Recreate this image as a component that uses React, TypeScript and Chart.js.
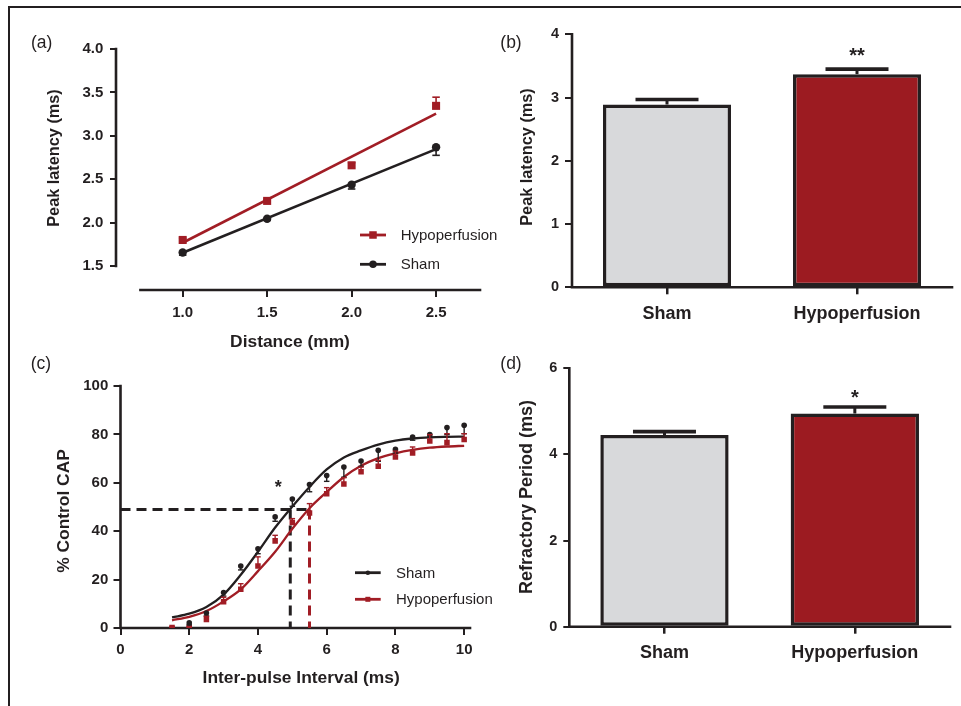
import React, { useEffect, useRef } from 'react';
import { Chart, registerables } from 'chart.js';
Chart.register(...registerables);

const INK = '#231f20';
const RED = '#a11d25';
const BAR_RED = '#9c1b21';
const GRAY = '#d8d9db';
const FONT = "'Liberation Sans', Arial, Helvetica, sans-serif";

// ---------- (a) latency vs distance ----------
const distanceMm = [1.0, 1.5, 2.0, 2.5];
const hypoLatencyA = [1.8, 2.25, 2.66, 3.345];
const hypoLatencyErrA = [0.02, 0.02, 0.03, 0.1];
const shamLatencyA = [1.655, 2.045, 2.437, 2.868];
const shamLatencyErrA = [0.03, 0.02, 0.05, 0.093];
const fitDistance = [1.0, 2.5];
const hypoFitA = [1.768, 3.255];
const shamFitA = [1.653, 2.847];
const yTicksA = [1.5, 2.0, 2.5, 3.0, 3.5, 4.0];
const xTicksA = [1.0, 1.5, 2.0, 2.5];

// ---------- (b) peak latency bars ----------
const groups = ['Sham', 'Hypoperfusion'];
const peakLatencyB = [2.89, 3.37];
const peakLatencyErrB = [0.08, 0.08];
const sigTextB = ['', '**'];
const sigLevelB = [0, 3.727];
const yTicksB = [0, 1, 2, 3, 4];

// ---------- (c) recovery curves ----------
const ipiSham = [2, 2.5, 3, 3.5, 4, 4.5, 5, 5.5, 6, 6.5, 7, 7.5, 8, 8.5, 9, 9.5, 10];
const capSham = [2.1, 6.2, 14.7, 25.6, 32.7, 45.9, 53.3, 59.3, 63.0, 66.5, 69.0, 73.4, 73.8, 78.9, 79.9, 82.8, 83.8];
const capShamErr = [0.8, 1.2, 1.5, 1.6, 2.0, 1.8, 3.0, 3.0, 2.4, 4.2, 2.2, 4.5, 1.5, 1.3, 1.0, 2.9, 3.5];
const ipiHypo = [1.5, 2, 2.5, 3, 3.5, 4, 4.5, 5, 5.5, 6, 6.5, 7, 7.5, 8, 8.5, 9, 9.5, 10];
const capHypo = [0.2, 0.2, 3.5, 10.8, 16.0, 25.6, 36.0, 43.6, 47.5, 55.5, 59.5, 64.6, 66.8, 70.7, 72.3, 77.3, 76.6, 77.9];
const capHypoErr = [0.3, 0.3, 1.3, 1.9, 2.3, 3.8, 2.3, 1.6, 3.9, 2.5, 2.6, 1.9, 2.5, 2.4, 2.5, 2.6, 3.7, 2.4];
const fitIpi = [1.5, 2, 2.5, 3, 3.5, 4, 4.5, 5, 5.5, 6, 6.5, 7, 7.5, 8, 8.5, 9, 9.5, 10];
const shamFitC = [4.4, 5.9, 8.7, 13.8, 22.0, 31.5, 41.5, 50.2, 58.3, 65.5, 70.5, 73.4, 75.8, 77.4, 78.3, 78.8, 79.0, 79.1];
const hypoFitC = [3.2, 4.6, 7.0, 11.0, 16.0, 23.5, 31.5, 41.0, 49.5, 56.2, 62.4, 67.0, 70.2, 72.2, 73.6, 74.5, 75.0, 75.3];
const halfLevel = 49;
const shamHalfIpi = 4.94;
const hypoHalfIpi = 5.5;
const starC = { x: 4.59, y: 59.8 };
const yTicksC = [0, 20, 40, 60, 80, 100];
const xTicksC = [0, 2, 4, 6, 8, 10];

// ---------- (d) refractory period bars ----------
const refractoryD = [4.45, 4.95];
const refractoryErrD = [0.08, 0.15];
const sigTextD = ['', '*'];
const sigLevelD = [0, 5.42];
const yTicksD = [0, 2, 4, 6];

type Pt = { x: number; y: number };
const zip = (xs: number[], ys: number[]): Pt[] => xs.map((x, i) => ({ x, y: ys[i] }));

// ---------- plugins ----------
function axisLines(o: { yFrom: number; yTo: number; xFrom: number | null; width: number }) {
  return {
    id: 'axisLines',
    beforeDatasetsDraw(chart: any) {
      const { ctx, chartArea } = chart;
      const x = chart.scales.x;
      const y = chart.scales.y;
      ctx.save();
      ctx.strokeStyle = INK;
      ctx.lineWidth = o.width;
      ctx.lineCap = 'square';
      ctx.beginPath();
      ctx.moveTo(chartArea.left, y.getPixelForValue(o.yFrom));
      ctx.lineTo(chartArea.left, y.getPixelForValue(o.yTo));
      ctx.moveTo(o.xFrom == null ? chartArea.left : x.getPixelForValue(o.xFrom), chartArea.bottom);
      ctx.lineTo(chartArea.right, chartArea.bottom);
      ctx.stroke();
      ctx.restore();
    },
  };
}

type ErrSet = { ds: number; errors: number[]; dir: number; color: string; lw: number; capW: number; capLw: number };
function errorBars(sets: ErrSet[]) {
  return {
    id: 'errorBars',
    afterDatasetsDraw(chart: any) {
      const { ctx } = chart;
      const y = chart.scales.y;
      sets.forEach((s) => {
        const meta = chart.getDatasetMeta(s.ds);
        const data = chart.data.datasets[s.ds].data;
        ctx.save();
        ctx.strokeStyle = s.color;
        ctx.lineCap = 'butt';
        meta.data.forEach((el: any, i: number) => {
          const d = data[i];
          const v = typeof d === 'number' ? d : d.y;
          const e = s.errors[i];
          if (!e) return;
          const p0 = y.getPixelForValue(v);
          const p1 = y.getPixelForValue(v + s.dir * e);
          ctx.lineWidth = s.lw;
          ctx.beginPath();
          ctx.moveTo(el.x, p0);
          ctx.lineTo(el.x, p1);
          ctx.stroke();
          ctx.lineWidth = s.capLw;
          ctx.beginPath();
          ctx.moveTo(el.x - s.capW / 2, p1);
          ctx.lineTo(el.x + s.capW / 2, p1);
          ctx.stroke();
        });
        ctx.restore();
      });
    },
  };
}

type LegItem = { text: string; color: string; marker: 'rect' | 'circle'; size: number; x0: number; x1: number; y: number; tx: number };
function legendBox(items: LegItem[], lw: number) {
  return {
    id: 'legendBox',
    afterDraw(chart: any) {
      const { ctx } = chart;
      ctx.save();
      items.forEach((it) => {
        ctx.strokeStyle = it.color;
        ctx.fillStyle = it.color;
        ctx.lineWidth = lw;
        ctx.beginPath();
        ctx.moveTo(it.x0, it.y);
        ctx.lineTo(it.x1, it.y);
        ctx.stroke();
        const cx = (it.x0 + it.x1) / 2;
        if (it.marker === 'rect') {
          ctx.fillRect(cx - it.size / 2, it.y - it.size / 2, it.size, it.size);
        } else {
          ctx.beginPath();
          ctx.arc(cx, it.y, it.size / 2, 0, Math.PI * 2);
          ctx.fill();
        }
        ctx.fillStyle = INK;
        ctx.font = `15px ${FONT}`;
        ctx.textAlign = 'left';
        ctx.textBaseline = 'middle';
        ctx.fillText(it.text, it.tx, it.y + 1);
      });
      ctx.restore();
    },
  };
}

function barStars(texts: string[], levels: number[], size: number) {
  return {
    id: 'barStars',
    afterDraw(chart: any) {
      const { ctx } = chart;
      const meta = chart.getDatasetMeta(0);
      ctx.save();
      ctx.fillStyle = INK;
      ctx.font = `bold ${size}px ${FONT}`;
      ctx.textAlign = 'center';
      ctx.textBaseline = 'alphabetic';
      texts.forEach((t, i) => {
        if (!t) return;
        ctx.fillText(t, meta.data[i].x, chart.scales.y.getPixelForValue(levels[i]) + 0.52 * size);
      });
      ctx.restore();
    },
  };
}

function pointStar(p: Pt, size: number) {
  return {
    id: 'pointStar',
    afterDraw(chart: any) {
      const { ctx } = chart;
      ctx.save();
      ctx.fillStyle = INK;
      ctx.font = `bold ${size}px ${FONT}`;
      ctx.textAlign = 'center';
      ctx.textBaseline = 'alphabetic';
      ctx.fillText('*', chart.scales.x.getPixelForValue(p.x), chart.scales.y.getPixelForValue(p.y) + 0.52 * size);
      ctx.restore();
    },
  };
}

// ---------- scale helpers ----------
function linScale(o: { axis: 'x' | 'y'; min: number; max: number; ticks: number[]; dec: number; size: number; tickLen: number; pad: number; box: number }) {
  return {
    type: 'linear',
    bounds: 'data',
    min: o.min,
    max: o.max,
    afterBuildTicks: (s: any) => {
      s.ticks = o.ticks.map((v) => ({ value: v }));
    },
    afterFit: (s: any) => {
      if (o.axis === 'x') s.height = o.box;
      else s.width = o.box;
      s.paddingLeft = 0;
      s.paddingRight = 0;
      s.paddingTop = 0;
      s.paddingBottom = 0;
    },
    ticks: {
      callback: (v: number) => Number(v).toFixed(o.dec),
      font: { family: FONT, size: o.size, weight: 'bold' },
      color: INK,
      padding: o.pad,
      autoSkip: false,
      maxRotation: 0,
    },
    grid: { display: true, drawOnChartArea: false, drawTicks: true, tickLength: o.tickLen, lineWidth: 2, color: INK },
    border: { display: false },
  };
}

function catScale(o: { size: number; tickLen: number; pad: number; box: number }) {
  return {
    type: 'category',
    offset: true,
    afterFit: (s: any) => {
      s.height = o.box;
      s.paddingLeft = 0;
      s.paddingRight = 0;
    },
    ticks: { font: { family: FONT, size: o.size, weight: 'bold' }, color: INK, padding: o.pad, maxRotation: 0, autoSkip: false },
    grid: { display: true, offset: false, drawOnChartArea: false, drawTicks: true, tickLength: o.tickLen, lineWidth: 2.5, color: INK },
    border: { display: false },
  };
}

const common = {
  responsive: false,
  maintainAspectRatio: false,
  animation: false,
  devicePixelRatio: 1,
  events: [],
  plugins: { legend: { display: false }, tooltip: { enabled: false } },
};

function makeA(): any {
  return {
    type: 'scatter',
    data: {
      datasets: [
        { data: zip(distanceMm, hypoLatencyA), pointStyle: 'rect', pointRadius: 5.7, pointBackgroundColor: RED, pointBorderWidth: 0, showLine: false },
        { data: zip(distanceMm, shamLatencyA), pointStyle: 'circle', pointRadius: 4.2, pointBackgroundColor: INK, pointBorderWidth: 0, showLine: false },
        { data: zip(fitDistance, hypoFitA), showLine: true, borderColor: RED, borderWidth: 2.6, pointRadius: 0 },
        { data: zip(fitDistance, shamFitA), showLine: true, borderColor: INK, borderWidth: 2.6, pointRadius: 0 },
      ],
    },
    options: {
      ...common,
      layout: { padding: { left: 0, right: 30, top: 49, bottom: 0 } },
      scales: {
        x: linScale({ axis: 'x', min: 0.6053, max: 2.76, ticks: xTicksA, dec: 1, size: 15, tickLen: 7, pad: 7, box: 70 }),
        y: linScale({ axis: 'y', min: 1.2235, max: 4.0, ticks: yTicksA, dec: 1, size: 15, tickLen: 6, pad: 6.7, box: 116 }),
      },
    },
    plugins: [
      axisLines({ yFrom: 1.5, yTo: 4.0, xFrom: 0.75, width: 2.6 }),
      errorBars([
        { ds: 0, errors: hypoLatencyErrA, dir: 1, color: RED, lw: 1.6, capW: 7.5, capLw: 1.6 },
        { ds: 1, errors: shamLatencyErrA, dir: -1, color: INK, lw: 1.6, capW: 7.5, capLw: 1.6 },
      ]),
      legendBox(
        [
          { text: 'Hypoperfusion', color: RED, marker: 'rect', size: 7.5, x0: 360, x1: 386, y: 235, tx: 400.7 },
          { text: 'Sham', color: INK, marker: 'circle', size: 7.5, x0: 360, x1: 386, y: 264.3, tx: 400.7 },
        ],
        2.8
      ),
    ],
  };
}

function makeBar(values: number[], errs: number[], sigT: string[], sigL: number[], yMax: number, ticks: number[], pad: any, yBox: number, yTickLen: number, xBox: number, xPad: number): any {
  return {
    type: 'bar',
    data: {
      labels: groups,
      datasets: [
        {
          data: values,
          backgroundColor: [GRAY, BAR_RED],
          borderColor: INK,
          borderWidth: 3.5,
          borderSkipped: false,
          barPercentage: 0.674,
          categoryPercentage: 1,
        },
      ],
    },
    options: {
      ...common,
      layout: { padding: pad },
      scales: {
        x: catScale({ size: 18, tickLen: 7, pad: xPad, box: xBox }),
        y: linScale({ axis: 'y', min: 0, max: yMax, ticks, dec: 0, size: 14.5, tickLen: yTickLen, pad: 6, box: yBox }),
      },
    },
    plugins: [
      axisLines({ yFrom: 0, yTo: yMax, xFrom: null, width: 2.6 }),
      errorBars([{ ds: 0, errors: errs, dir: 1, color: INK, lw: 3, capW: 63, capLw: 3.6 }]),
      barStars(sigT, sigL, 20),
    ],
  };
}

function makeC(): any {
  return {
    type: 'scatter',
    data: {
      datasets: [
        { data: zip(ipiSham, capSham), pointStyle: 'circle', pointRadius: 2.8, pointBackgroundColor: INK, pointBorderWidth: 0, showLine: false },
        { data: zip(ipiHypo, capHypo), pointStyle: 'rect', pointRadius: 3.9, pointBackgroundColor: RED, pointBorderWidth: 0, showLine: false },
        { data: zip(fitIpi, shamFitC), showLine: true, borderColor: INK, borderWidth: 2.3, pointRadius: 0, cubicInterpolationMode: 'monotone' },
        { data: zip(fitIpi, hypoFitC), showLine: true, borderColor: RED, borderWidth: 2.3, pointRadius: 0, cubicInterpolationMode: 'monotone' },
        { data: zip([0, hypoHalfIpi], [halfLevel, halfLevel]), showLine: true, borderColor: INK, borderWidth: 3, borderDash: [10, 6], pointRadius: 0 },
        { data: zip([shamHalfIpi, shamHalfIpi], [halfLevel, 0]), showLine: true, borderColor: INK, borderWidth: 3, borderDash: [10, 6], pointRadius: 0 },
        { data: zip([hypoHalfIpi, hypoHalfIpi], [halfLevel, 0]), showLine: true, borderColor: RED, borderWidth: 3, borderDash: [10, 6], pointRadius: 0 },
      ],
    },
    options: {
      ...common,
      layout: { padding: { left: 0, right: 40, top: 26, bottom: 0 } },
      scales: {
        x: linScale({ axis: 'x', min: 0, max: 10.17, ticks: xTicksC, dec: 0, size: 15, tickLen: 7, pad: 6, box: 78 }),
        y: linScale({ axis: 'y', min: 0, max: 100, ticks: yTicksC, dec: 0, size: 15, tickLen: 7, pad: 5.2, box: 120.5 }),
      },
    },
    plugins: [
      axisLines({ yFrom: 0, yTo: 100, xFrom: null, width: 2.6 }),
      errorBars([
        { ds: 0, errors: capShamErr, dir: -1, color: INK, lw: 1.4, capW: 5.5, capLw: 1.4 },
        { ds: 1, errors: capHypoErr, dir: 1, color: RED, lw: 1.4, capW: 5.5, capLw: 1.4 },
      ]),
      legendBox(
        [
          { text: 'Sham', color: INK, marker: 'circle', size: 4.5, x0: 355, x1: 380.7, y: 212.7, tx: 396 },
          { text: 'Hypoperfusion', color: RED, marker: 'rect', size: 5, x0: 355, x1: 380.7, y: 239.3, tx: 396 },
        ],
        2.8
      ),
      pointStar(starC, 18),
    ],
  };
}

function ChartBox(props: { left: number; top: number; width: number; height: number; make: () => any }) {
  const ref = useRef<HTMLCanvasElement>(null);
  useEffect(() => {
    const chart = new Chart(ref.current as HTMLCanvasElement, props.make());
    return () => chart.destroy();
  }, []);
  return (
    <canvas
      ref={ref}
      width={props.width}
      height={props.height}
      style={{ position: 'absolute', left: props.left, top: props.top, width: props.width, height: props.height }}
    />
  );
}

function Label(p: { text: string; cx: number; cy: number; size: number; bold?: boolean; rotate?: boolean }) {
  return (
    <div
      style={{
        position: 'absolute',
        left: p.cx,
        top: p.cy,
        transform: `translate(-50%, -50%)${p.rotate ? ' rotate(-90deg)' : ''}`,
        whiteSpace: 'nowrap',
        fontFamily: FONT,
        fontSize: p.size,
        fontWeight: p.bold ? 'bold' : 'normal',
        color: INK,
        lineHeight: 1,
      }}
    >
      {p.text}
    </div>
  );
}

export default function App() {
  return (
    <div style={{ position: 'absolute', left: 0, top: 0, width: 961, height: 706, background: '#fff', overflow: 'hidden' }}>
      <div style={{ position: 'absolute', left: 7.5, top: 6, width: 954, height: 2, background: INK }} />
      <div style={{ position: 'absolute', left: 7.5, top: 6, width: 2, height: 700, background: INK }} />

      <ChartBox left={0} top={0} width={510} height={360} make={makeA} />
      <ChartBox
        left={490}
        top={0}
        width={471}
        height={360}
        make={() => makeBar(peakLatencyB, peakLatencyErrB, sigTextB, sigLevelB, 4, yTicksB, { left: 0, right: 9, top: 34.3, bottom: 0 }, 82, 7, 72.7, 8.5)}
      />
      <ChartBox left={0} top={360} width={510} height={346} make={makeC} />
      <ChartBox
        left={490}
        top={360}
        width={471}
        height={346}
        make={() => makeBar(refractoryD, refractoryErrD, sigTextD, sigLevelD, 6, yTicksD, { left: 0, right: 11, top: 8.3, bottom: 0 }, 79.3, 6, 79.3, 8.8)}
      />

      <Label text="(a)" cx={41.7} cy={42.5} size={17.5} />
      <Label text="(b)" cx={511} cy={42.5} size={17.5} />
      <Label text="(c)" cx={41} cy={364} size={17.5} />
      <Label text="(d)" cx={511} cy={364} size={17.5} />

      <Label text="Peak latency (ms)" cx={52.7} cy={158} size={16.3} bold rotate />
      <Label text="Distance (mm)" cx={290} cy={341.7} size={17.4} bold />
      <Label text="Peak latency (ms)" cx={525.5} cy={157.2} size={16.3} bold rotate />
      <Label text="% Control CAP" cx={63.7} cy={511.3} size={17.4} bold rotate />
      <Label text="Inter-pulse Interval (ms)" cx={301.2} cy={678.3} size={17.4} bold />
      <Label text="Refractory Period (ms)" cx={525.8} cy={496.7} size={18} bold rotate />
    </div>
  );
}
